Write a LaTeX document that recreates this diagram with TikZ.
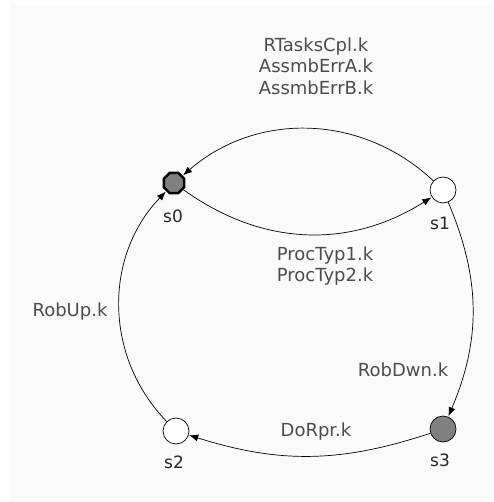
\documentclass[tikz,border=0pt]{standalone}
\usepackage{fontspec}
\setmainfont{DejaVu Sans}
\usetikzlibrary{shapes.geometric, arrows.meta, positioning}

\begin{document}
\begin{tikzpicture}[
    x=1pt, y=1pt,
    state/.style={circle, draw, line width=0.7pt, minimum size=26pt, inner sep=0pt, fill=white},
    init/.style={regular polygon, regular polygon sides=8, draw, line width=2.4pt,
                 minimum size=22pt, inner sep=0pt, fill=black!50},
    busy/.style={state, fill=black!50},
    trans/.style={-{Latex[length=9pt,width=7pt]}, line width=0.7pt, shorten >=0.5pt},
    lbl/.style={font=\fontsize{18}{21.5}\selectfont, text=black!70, align=center},
    slbl/.style={font=\fontsize{17}{18}\selectfont, text=black!85}
]
    \useasboundingbox (0,0) rectangle (493,-502);
    \fill[black!2] (10,-5) rectangle (493,-499);

    % states
    \node[init] (s0) at (174,-183) {};
    \node[state] (s1) at (443,-190) {};
    \node[state] (s2) at (176,-431) {};
    \node[busy] (s3) at (443,-429) {};

    % state names
    \node[slbl] (n0) at (173,-216) {s0};
    \node[slbl] (n1) at (440,-223) {s1};
    \node[slbl] (n2) at (174,-462) {s2};
    \node[slbl] (n3) at (440,-460) {s3};

    % transitions
    \draw[trans] (s1) to[bend right=42] (s0);
    \draw[trans] (s0) to[bend right=34] (s1);
    \draw[trans] (s1) to[bend left=23] (s3);
    \draw[trans] (s3) to[bend left=18] (s2);
    \draw[trans] (s2) to[bend left=44] (s0);

    % transition labels
    \node[lbl] (err) at (316,-66) {RTasksCpl.k\\AssmbErrA.k\\AssmbErrB.k};
    \node[lbl] (proc) at (325,-266) {ProcTyp1.k\\ProcTyp2.k};
    \node[lbl] (up) at (70,-312) {RobUp.k};
    \node[lbl] (dwn) at (403,-370) {RobDwn.k};
    \node[lbl] (rpr) at (316,-432) {DoRpr.k};
\end{tikzpicture}
\end{document}
